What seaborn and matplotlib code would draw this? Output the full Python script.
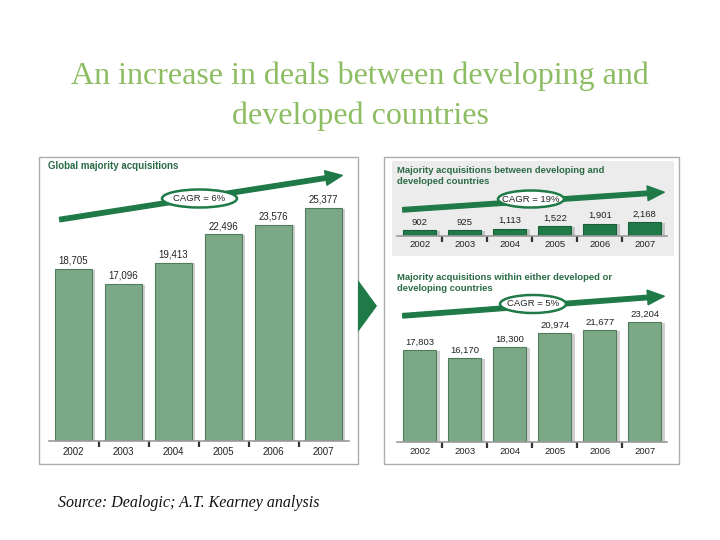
import matplotlib
matplotlib.use("Agg")
import matplotlib.pyplot as plt
import seaborn as sns
import pandas as pd
from matplotlib.patches import Rectangle, Ellipse, Polygon, FancyArrowPatch
import matplotlib.patheffects as pe

# ---------------- data ----------------
years = ["2002", "2003", "2004", "2005", "2006", "2007"]
global_deals = [18705, 17096, 19413, 22496, 23576, 25377]
cross_deals = [902, 925, 1113, 1522, 1901, 2168]
within_deals = [17803, 16170, 18300, 20974, 21677, 23204]

title_text = "An increase in deals between developing and\ndeveloped countries"
source_text = "Source: Dealogic; A.T. Kearney analysis"
head_global = "Global majority acquisitions"
head_cross = "Majority acquisitions between developing and\ndeveloped countries"
head_within = "Majority acquisitions within either developed or\ndeveloping countries"
cagr_global = "CAGR = 6%"
cagr_cross = "CAGR = 19%"
cagr_within = "CAGR = 5%"

# ---------------- style ----------------
sns.set_style("white")
plt.rcParams["font.family"] = ["Liberation Sans", "DejaVu Sans"]

W, H = 720, 540
fig = plt.figure(figsize=(7.2, 5.4), dpi=100)
fig.patch.set_facecolor("white")

LIGHT_BAR = "#7ba886"
LIGHT_EDGE = "#4f7d5c"
DARK_BAR = "#1f7a48"
DARK_EDGE = "#17603a"
ARROW_C = "#1f7a48"
HEAD_C = "#2b6b45"


def fx(x):
    return x / W


def fy(y):
    return 1 - y / H


def axes_px(x0, x1, y_base, y_top):
    return fig.add_axes([x0 / W, 1 - y_base / H, (x1 - x0) / W, (y_base - y_top) / H])


def box(x0, y0, x1, y1, face="white", edge="#a8b0ac", lw=1.0, z=-2):
    fig.add_artist(Rectangle((fx(x0), fy(y1)), (x1 - x0) / W, (y1 - y0) / H,
                             transform=fig.transFigure, facecolor=face,
                             edgecolor=edge, linewidth=lw, zorder=z))


def draw_bars(ax, vals, color, edge, ymax, fs):
    df = pd.DataFrame({"year": years, "value": vals})
    sns.barplot(data=df, x="year", y="value", ax=ax, color=color, saturation=1,
                width=0.74, edgecolor=edge, linewidth=0.8)
    for p in ax.patches:
        p.set_path_effects([pe.SimplePatchShadow(offset=(2.5, -0.5),
                                                 shadow_rgbFace="#777777", alpha=0.35),
                            pe.Normal()])
    ax.set_ylim(0, ymax)
    ax.set_xlim(-0.5, 5.5)
    ax.bar_label(ax.containers[0], labels=[f"{v:,}" for v in vals], padding=2.5,
                 fontsize=fs, color="#222222")
    ax.set_xlabel("")
    ax.set_ylabel("")
    ax.set_yticks([])
    for s in ["top", "right", "left"]:
        ax.spines[s].set_visible(False)
    ax.spines["bottom"].set_color("#9a9a9a")
    ax.spines["bottom"].set_linewidth(1.2)
    ax.tick_params(axis="x", which="major", length=0, labelsize=fs, pad=4,
                   labelcolor="#222222")
    ax.set_xticks([i + 0.5 for i in range(5)], minor=True)
    ax.tick_params(axis="x", which="minor", bottom=True, direction="out",
                   length=4.5, width=1.6, color="#333333")
    ax.patch.set_alpha(0)


def arrow(p0, p1):
    fig.add_artist(FancyArrowPatch((fx(p0[0]), fy(p0[1])), (fx(p1[0]), fy(p1[1])),
                                   transform=fig.transFigure,
                                   arrowstyle="simple,head_length=1.2,head_width=1.05,tail_width=0.32",
                                   mutation_scale=10, color=ARROW_C, zorder=5))


def cagr(cx, cy, w, h, text):
    fig.add_artist(Ellipse((fx(cx), fy(cy)), w / W, h / H, transform=fig.transFigure,
                           facecolor="white", edgecolor=ARROW_C, linewidth=1.8, zorder=6))
    fig.text(fx(cx), fy(cy), text, ha="center", va="center", fontsize=6.8,
             color="#222222", zorder=7)


# ---------------- title & source ----------------
fig.text(0.5, fy(96), title_text, ha="center", va="center", fontsize=23,
         family=["Liberation Serif", "DejaVu Serif"], color="#8dbd62",
         linespacing=1.45)
fig.text(fx(58), fy(503), source_text, ha="left", va="center", fontsize=11.5,
         family=["Liberation Serif", "DejaVu Serif"], style="italic", color="#111111")

# ---------------- panel frames ----------------
box(39, 157, 358, 464)
box(384, 157, 679, 464)
box(392, 161, 674, 256, face="#ececec", edge="none", z=-1)

# middle arrow triangle
fig.add_artist(Polygon([(fx(358), fy(280)), (fx(377), fy(306)), (fx(358), fy(332))],
                       closed=True, transform=fig.transFigure, facecolor=DARK_BAR,
                       edgecolor="none", zorder=3))

# ---------------- left panel ----------------
axL = axes_px(48.5, 348.5, 441, 441 - 30000 * 0.00918)
draw_bars(axL, global_deals, LIGHT_BAR, LIGHT_EDGE, 30000, 7)
fig.text(fx(48), fy(166), head_global, ha="left", va="center", fontsize=7,
         fontweight="bold", color=HEAD_C)
arrow((57, 220), (345, 175))
cagr(199.5, 198.5, 75, 18, cagr_global)

# ---------------- top-right panel ----------------
axT = axes_px(397.3, 667.3, 236, 236 - 3000 * 0.0065)
draw_bars(axT, cross_deals, DARK_BAR, DARK_EDGE, 3000, 6.8)
axT.tick_params(axis="x", which="major", pad=3)
fig.text(fx(397), fy(176), head_cross, ha="left", va="center", fontsize=6.8,
         fontweight="bold", color=HEAD_C, linespacing=1.15)
arrow((400, 210), (667, 192))
cagr(531, 199, 66, 17, cagr_cross)

# ---------------- bottom-right panel ----------------
axB = axes_px(397.3, 667.3, 441.5, 441.5 - 30000 * 0.00515)
draw_bars(axB, within_deals, LIGHT_BAR, LIGHT_EDGE, 30000, 6.8)
fig.text(fx(397), fy(283), head_within, ha="left", va="center", fontsize=6.8,
         fontweight="bold", color=HEAD_C, linespacing=1.15)
arrow((400, 316), (667, 296))
cagr(533, 304, 66, 18, cagr_within)

fig.savefig("out.png", dpi=100, facecolor="white")
